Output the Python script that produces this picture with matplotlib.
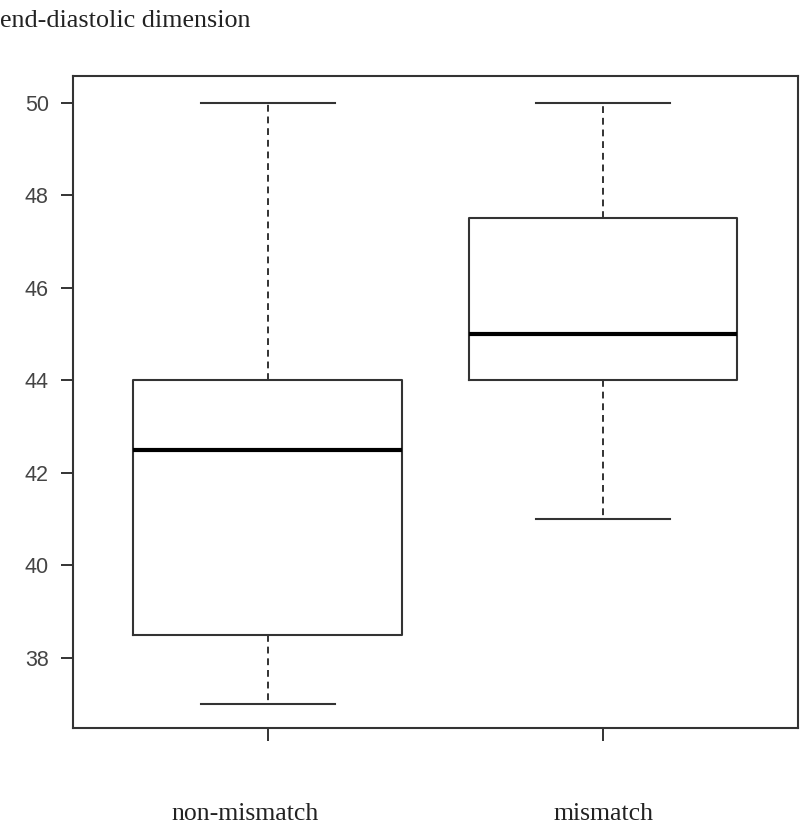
import numpy as np
import matplotlib
matplotlib.use("Agg")
import matplotlib.pyplot as plt

# Data (R-style boxplot summary)
groups = ["non-mismatch", "mismatch"]
whisker_low = [37.0, 41.0]
q1 = [38.5, 44.0]
medians = [42.5, 45.0]
q3 = [44.0, 47.5]
whisker_high = [50.0, 50.0]
y_ticks = [38, 40, 42, 44, 46, 48, 50]
title = "end-diastolic dimension"

line_col = "#333333"


def main():
    fig = plt.figure(figsize=(8.0, 8.27), dpi=100)
    ax = fig.add_axes([0.09125, 0.1197, 0.906, 0.7884])

    stats = []
    for i, name in enumerate(groups):
        stats.append(
            dict(
                label=name,
                whislo=whisker_low[i],
                q1=q1[i],
                med=medians[i],
                q3=q3[i],
                whishi=whisker_high[i],
                fliers=[],
            )
        )

    positions = np.arange(1, len(groups) + 1)
    ax.bxp(
        stats,
        positions=positions,
        widths=0.8,
        showfliers=False,
        boxprops=dict(color=line_col, linewidth=1.5),
        medianprops=dict(color="black", linewidth=3.0, solid_capstyle="butt"),
        whiskerprops=dict(color=line_col, linewidth=1.4, linestyle=(0, (3.5, 2.5))),
        capprops=dict(color=line_col, linewidth=1.5),
        capwidths=0.4,
    )

    # R pads the ranges by 4%
    ax.set_xlim(0.42, 2.58)
    ax.set_ylim(36.48, 50.58)

    ax.set_yticks(y_ticks)
    ax.set_yticklabels([str(t) for t in y_ticks], family="Liberation Sans",
                       fontsize=15.5, color="#444444")
    ax.set_xticks(positions)
    ax.set_xticklabels(["", ""])

    ax.tick_params(axis="y", length=8.5, width=1.4, color=line_col, pad=9)
    ax.tick_params(axis="x", length=9, width=1.4, color=line_col)

    for sp in ax.spines.values():
        sp.set_color(line_col)
        sp.set_linewidth(1.5)

    # group names sit well below the axis, like in the source figure
    label_x = [245 / 800, 603 / 800]
    for x, name in zip(label_x, groups):
        fig.text(x, 1 - 820 / 827, name, family="Liberation Serif",
                 fontsize=18.5, color="#222222", ha="center", va="baseline")

    fig.text(0.0, 1 - 27 / 827, title, family="Liberation Serif",
             fontsize=18.8, color="#222222", ha="left", va="baseline")

    fig.savefig("out.png", dpi=100, facecolor="white")


if __name__ == "__main__":
    main()
